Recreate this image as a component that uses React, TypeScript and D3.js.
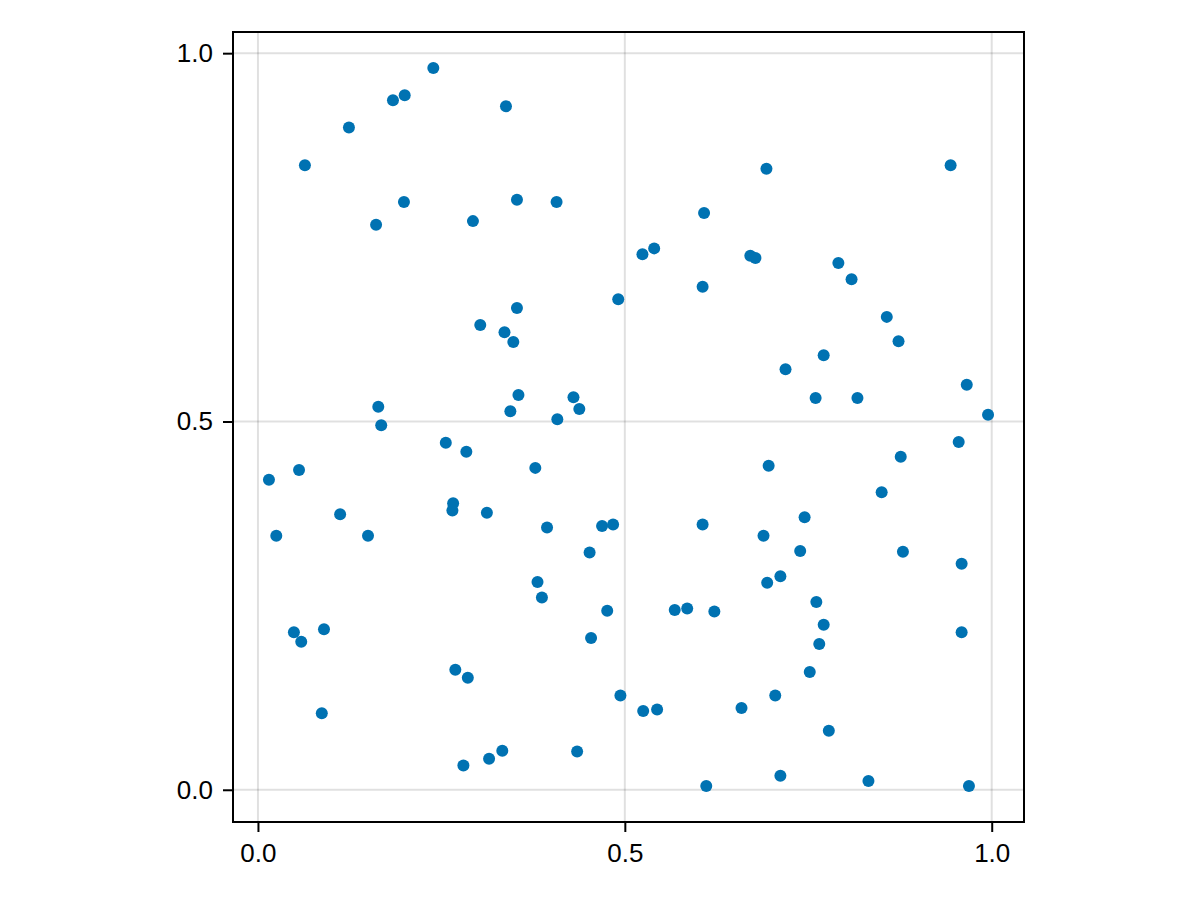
import React, { useEffect, useRef } from "react";
import * as d3 from "d3";

// ─── Data ─────────────────────────────────────────────────────────────────────
const xs: number[] = [
  0.239, 0.184, 0.200, 0.338, 0.124, 0.064, 0.693, 0.944, 0.199, 0.353,
  0.407, 0.161, 0.293, 0.608, 0.524, 0.540, 0.671, 0.678, 0.791, 0.809,
  0.491, 0.606, 0.353, 0.303, 0.336, 0.348, 0.857, 0.873, 0.771, 0.719,
  0.966, 0.760, 0.817, 0.355, 0.344, 0.430, 0.438, 0.408, 0.995, 0.164,
  0.168, 0.256, 0.284, 0.955, 0.876, 0.696, 0.378, 0.056, 0.015, 0.850,
  0.266, 0.265, 0.312, 0.112, 0.745, 0.469, 0.484, 0.394, 0.606, 0.025,
  0.150, 0.689, 0.452, 0.739, 0.879, 0.959, 0.712, 0.694, 0.381, 0.387,
  0.761, 0.568, 0.585, 0.476, 0.622, 0.771, 0.049, 0.090, 0.959, 0.059,
  0.454, 0.765, 0.269, 0.286, 0.752, 0.494, 0.705, 0.087, 0.525, 0.544,
  0.659, 0.778, 0.333, 0.435, 0.315, 0.280, 0.712, 0.832, 0.611, 0.969,
];
const ys: number[] = [
  0.980, 0.936, 0.943, 0.928, 0.899, 0.848, 0.843, 0.848, 0.798, 0.801,
  0.798, 0.767, 0.772, 0.783, 0.727, 0.735, 0.725, 0.722, 0.715, 0.693,
  0.666, 0.683, 0.654, 0.631, 0.621, 0.608, 0.642, 0.609, 0.590, 0.571,
  0.550, 0.532, 0.532, 0.536, 0.514, 0.533, 0.517, 0.503, 0.509, 0.520,
  0.495, 0.471, 0.459, 0.472, 0.452, 0.440, 0.437, 0.434, 0.421, 0.404,
  0.389, 0.379, 0.376, 0.374, 0.370, 0.358, 0.360, 0.356, 0.360, 0.345,
  0.345, 0.345, 0.322, 0.324, 0.323, 0.307, 0.290, 0.281, 0.282, 0.261,
  0.255, 0.244, 0.246, 0.243, 0.242, 0.224, 0.214, 0.218, 0.214, 0.201,
  0.206, 0.198, 0.163, 0.152, 0.160, 0.128, 0.128, 0.104, 0.107, 0.109,
  0.111, 0.080, 0.053, 0.052, 0.042, 0.033, 0.019, 0.012, 0.005, 0.005,
];
const xTicks = [0, 0.5, 1];
const yTicks = [0, 0.5, 1];

// ─── Design tokens ────────────────────────────────────────────────────────────
const WIDTH = 1200;
const HEIGHT = 900;
const BOX = { left: 233, right: 1024, top: 32, bottom: 822 };
const POINT_FILL = "#0072b2";
const GRID_STROKE = "rgba(0,0,0,0.12)";
const FONT = "'Liberation Sans', Arial, Helvetica, sans-serif";

export default function App() {
  const svgRef = useRef<SVGSVGElement>(null);

  useEffect(() => {
    const node = svgRef.current;
    if (!node) return;
    const svg = d3.select(node);
    svg.selectAll("*").remove();

    // limits: data extent padded by 5% each side
    const [x0, x1] = d3.extent(xs) as [number, number];
    const [y0, y1] = d3.extent(ys) as [number, number];
    const xp = (x1 - x0) * 0.05;
    const yp = (y1 - y0) * 0.05;

    const x = d3.scaleLinear().domain([x0 - xp, x1 + xp]).range([BOX.left, BOX.right]);
    const y = d3.scaleLinear().domain([y0 - yp, y1 + yp]).range([BOX.bottom, BOX.top]);

    // ── Grid ──────────────────────────────────────────────────────────────
    svg.append("g")
      .selectAll("line")
      .data(xTicks)
      .join("line")
      .attr("x1", (d) => x(d))
      .attr("x2", (d) => x(d))
      .attr("y1", BOX.top)
      .attr("y2", BOX.bottom)
      .attr("stroke", GRID_STROKE)
      .attr("stroke-width", 2);

    svg.append("g")
      .selectAll("line")
      .data(yTicks)
      .join("line")
      .attr("x1", BOX.left)
      .attr("x2", BOX.right)
      .attr("y1", (d) => y(d))
      .attr("y2", (d) => y(d))
      .attr("stroke", GRID_STROKE)
      .attr("stroke-width", 2);

    // ── Points ────────────────────────────────────────────────────────────
    svg.append("g")
      .selectAll("circle")
      .data(d3.range(xs.length))
      .join("circle")
      .attr("cx", (i) => x(xs[i]))
      .attr("cy", (i) => y(ys[i]))
      .attr("r", 6)
      .attr("fill", POINT_FILL);

    // ── Frame ─────────────────────────────────────────────────────────────
    svg.append("rect")
      .attr("x", BOX.left)
      .attr("y", BOX.top)
      .attr("width", BOX.right - BOX.left)
      .attr("height", BOX.bottom - BOX.top)
      .attr("fill", "none")
      .attr("stroke", "#000")
      .attr("stroke-width", 2);

    // ── Axes ──────────────────────────────────────────────────────────────
    const xAxis = svg.append("g")
      .attr("transform", `translate(0,${BOX.bottom})`)
      .call(
        d3.axisBottom(x)
          .tickValues(xTicks)
          .tickFormat(d3.format(".1f"))
          .tickSize(10)
          .tickPadding(12),
      );
    xAxis.select(".domain").remove();

    const yAxis = svg.append("g")
      .attr("transform", `translate(${BOX.left},0)`)
      .call(
        d3.axisLeft(y)
          .tickValues(yTicks)
          .tickFormat(d3.format(".1f"))
          .tickSize(10)
          .tickPadding(10),
      );
    yAxis.select(".domain").remove();

    for (const ax of [xAxis, yAxis]) {
      ax.selectAll(".tick line").attr("stroke", "#000").attr("stroke-width", 2);
      ax.selectAll("text")
        .attr("fill", "#000")
        .attr("font-size", 26)
        .attr("font-family", FONT);
    }
  }, []);

  return (
    <svg
      ref={svgRef}
      width={WIDTH}
      height={HEIGHT}
      style={{ position: "absolute", left: 0, top: 0, background: "#fff" }}
    />
  );
}
